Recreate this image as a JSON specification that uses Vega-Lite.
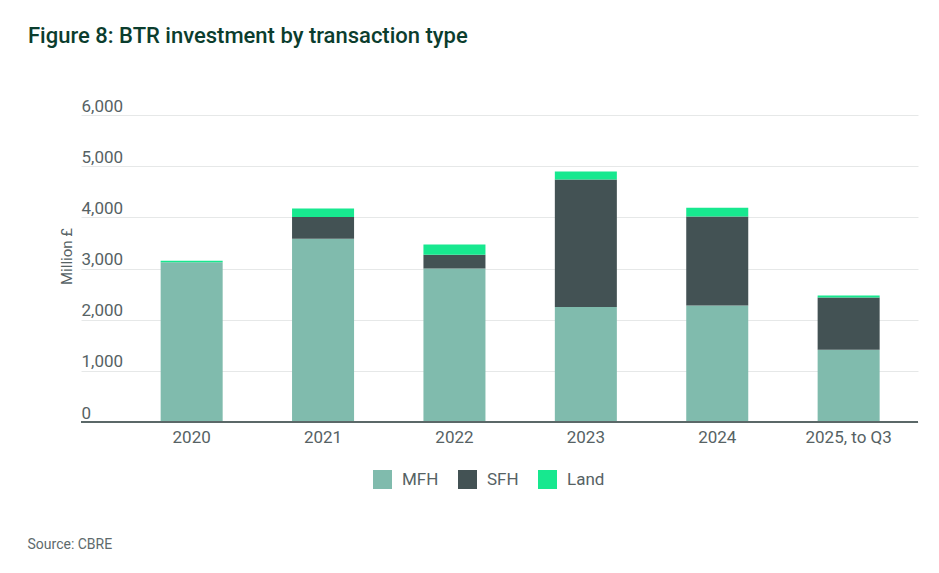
{
  "$schema": "https://vega.github.io/schema/vega-lite/v6.json",
  "width": 837,
  "height": 307,
  "autosize": {"type": "none"},
  "padding": {"left": 81, "top": 115, "right": 21, "bottom": 151},
  "background": "white",
  "title": {
    "text": "Figure 8: BTR investment by transaction type",
    "anchor": "start",
    "frame": "group",
    "dx": -53,
    "offset": 32,
    "baseline": "alphabetic",
    "fontSize": 22,
    "fontWeight": 500,
    "color": "#0B3D2E",
    "font": "Roboto"
  },
  "config": {
    "font": "Roboto",
    "view": {"stroke": null}
  },
  "data": {
    "values": [
      {"year": "2020", "type": "MFH", "value": 3120},
      {"year": "2020", "type": "SFH", "value": 0},
      {"year": "2020", "type": "Land", "value": 32},
      {"year": "2021", "type": "MFH", "value": 3582},
      {"year": "2021", "type": "SFH", "value": 424},
      {"year": "2021", "type": "Land", "value": 168},
      {"year": "2022", "type": "MFH", "value": 3002},
      {"year": "2022", "type": "SFH", "value": 268},
      {"year": "2022", "type": "Land", "value": 201},
      {"year": "2023", "type": "MFH", "value": 2247},
      {"year": "2023", "type": "SFH", "value": 2494},
      {"year": "2023", "type": "Land", "value": 156},
      {"year": "2024", "type": "MFH", "value": 2279},
      {"year": "2024", "type": "SFH", "value": 1739},
      {"year": "2024", "type": "Land", "value": 170},
      {"year": "2025, to Q3", "type": "MFH", "value": 1413},
      {"year": "2025, to Q3", "type": "SFH", "value": 1022},
      {"year": "2025, to Q3", "type": "Land", "value": 39}
    ]
  },
  "layer": [
    {
      "transform": [
        {"calculate": "indexof(['MFH','SFH','Land'], datum.type)", "as": "stackOrder"}
      ],
      "mark": {"type": "bar"},
      "encoding": {
        "x": {
          "field": "year",
          "type": "nominal",
          "sort": null,
          "scale": {"paddingInner": 0.528, "paddingOuter": 0.449, "align": 0.675},
          "axis": {
            "title": "Source: CBRE",
            "titleX": -54,
            "titleY": 126,
            "titleAlign": "left",
            "titleAnchor": null,
            "titleBaseline": "alphabetic",
            "titleFontSize": 14,
            "titleFontWeight": "normal",
            "titleColor": "#5E6A6C",
            "labelAngle": 0,
            "labelFontSize": 17,
            "labelColor": "#566264",
            "labelPadding": 7,
            "domain": false,
            "ticks": false,
            "grid": false
          }
        },
        "y": {
          "field": "value",
          "type": "quantitative",
          "stack": "zero",
          "scale": {"domain": [0, 6000], "nice": false},
          "axis": {
            "title": "Million £",
            "titleX": -15,
            "titleY": 141,
            "titleAngle": -90,
            "titleAlign": "center",
            "titleBaseline": "middle",
            "titleFontSize": 15,
            "titleFontWeight": "normal",
            "titleColor": "#566264",
            "values": [0, 1000, 2000, 3000, 4000, 5000, 6000],
            "format": ",.0f",
            "labelAlign": "left",
            "labelBaseline": "alphabetic",
            "labelPadding": 0,
            "labelOffset": -4,
            "labelFontSize": 17,
            "labelColor": "#566264",
            "domain": false,
            "ticks": false,
            "tickSize": 0,
            "gridColor": "#E6E8E8",
            "gridWidth": 1
          }
        },
        "color": {
          "field": "type",
          "type": "nominal",
          "scale": {"domain": ["MFH", "SFH", "Land"], "range": ["#80BBAD", "#435254", "#17E88F"]},
          "legend": {
            "title": null,
            "orient": "none",
            "legendX": 292,
            "legendY": 355,
            "direction": "horizontal",
            "symbolType": "square",
            "symbolSize": 361,
            "symbolStrokeWidth": 0,
            "labelFontSize": 17,
            "labelColor": "#566264",
            "labelOffset": 10,
            "columnPadding": 19
          }
        },
        "order": {"field": "stackOrder", "type": "quantitative"}
      }
    },
    {
      "mark": {"type": "rule", "color": "#5B6868", "strokeWidth": 2},
      "encoding": {"y": {"datum": 0}}
    }
  ]
}
